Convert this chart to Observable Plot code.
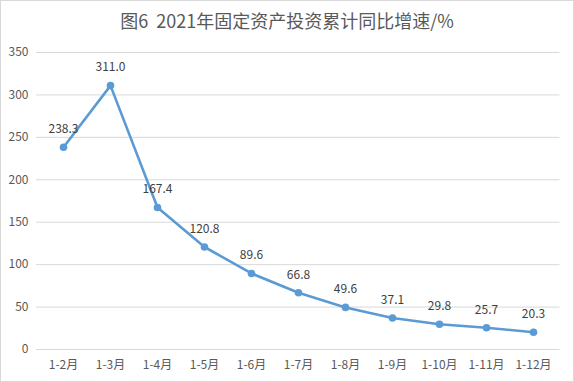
<!DOCTYPE html>
<html>
<head>
<meta charset="utf-8">
<script src="https://cdn.jsdelivr.net/npm/d3@7"></script>
<script src="https://cdn.jsdelivr.net/npm/@observablehq/plot@0.6"></script>
<style>
  html, body { margin: 0; padding: 0; background: #fff; }
  #wrap {
    position: relative; width: 574px; height: 382px; box-sizing: border-box;
    border: 1px solid #d9d9d9; background: #fff;
    font-family: "Noto Sans CJK SC", "Noto Sans", sans-serif;
  }
  #title {
    position: absolute; left: 0; right: 0; top: 7px; text-align: center;
    font-size: 18px; color: #595959; line-height: 24px; white-space: pre;
  }
  #chart { position: absolute; left: 0; top: 0; width: 574px; height: 382px; }
</style>
</head>
<body>
<div id="wrap">
  <div id="title"></div>
</div>
<div id="chart"></div>
<script>
const titleText = "图6  2021年固定资产投资累计同比增速/%";
const months = ["1-2月","1-3月","1-4月","1-5月","1-6月","1-7月","1-8月","1-9月","1-10月","1-11月","1-12月"];
const growth = [238.3, 311.0, 167.4, 120.8, 89.6, 66.8, 49.6, 37.1, 29.8, 25.7, 20.3];
const yTicks = [0, 50, 100, 150, 200, 250, 300, 350];

document.getElementById("title").textContent = titleText;

const data = months.map((m, i) => ({month: m, value: growth[i]}));
const lineColor = "#5B9BD5";

const chart = Plot.plot({
  width: 574,
  height: 382,
  marginTop: 52,
  marginBottom: 33,
  marginLeft: 36,
  marginRight: 14.5,
  style: {fontFamily: "'Noto Sans CJK SC', 'Noto Sans', sans-serif", fontSize: "12px", color: "#595959", background: "transparent"},
  x: {type: "point", domain: months, padding: 0.5, label: null},
  y: {domain: [0, 350], label: null},
  marks: [
    Plot.gridY(yTicks, {stroke: "#d9d9d9", strokeOpacity: 1, strokeWidth: 1}),
    Plot.axisY(yTicks, {tickSize: 0, tickPadding: 8, label: null, fill: "#595959", fontSize: 12}),
    Plot.axisX({tickSize: 0, tickPadding: 11, label: null, fill: "#595959", fontSize: 12}),
    Plot.line(data, {x: "month", y: "value", stroke: lineColor, strokeWidth: 2.6}),
    Plot.dot(data, {x: "month", y: "value", fill: lineColor, r: 3.8}),
    Plot.text(data, {x: "month", y: "value", text: d => d.value.toFixed(1), dy: -18, fill: "#404040", fontSize: 12})
  ]
});
document.getElementById("chart").appendChild(chart);
</script>
</body>
</html>
